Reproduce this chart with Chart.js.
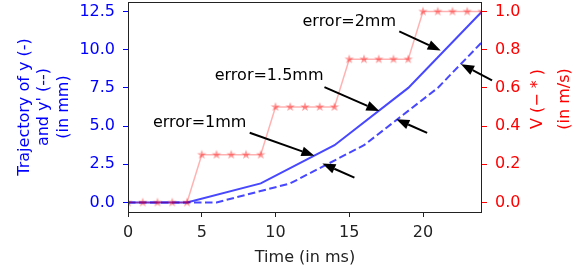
<!DOCTYPE html>
<html>
<head>
<meta charset="utf-8">
<script src="https://cdn.jsdelivr.net/npm/chart.js@4"></script>
<style>
  html, body { margin: 0; padding: 0; background: #fff; }
  #wrap { width: 584px; height: 276px; }
</style>
</head>
<body>
<div id="wrap"><canvas id="myChart"></canvas></div>
<script>
// values
const timeMs = [0, 1, 2, 3, 4, 5, 6, 7, 8, 9, 10, 11, 12, 13, 14, 15, 16, 17, 18, 19, 20, 21, 22, 23, 24];
const velocity = [0, 0, 0, 0, 0, 0.25, 0.25, 0.25, 0.25, 0.25, 0.5, 0.5, 0.5, 0.5, 0.5,
                  0.75, 0.75, 0.75, 0.75, 0.75, 1, 1, 1, 1, 1];
const trajTime = [0, 4, 9, 14, 19, 24];
const trajY = [0, 0, 1.25, 3.75, 7.5, 12.5];
const trajDelayTime = [0, 6, 11, 16, 21, 24];
const trajDelayY = [0, 0, 1.25, 3.75, 7.5, 10.5];

const xTicks = [0, 5, 10, 15, 20];
const leftTicks = [0, 2.5, 5, 7.5, 10, 12.5];
const rightTicks = [0, 0.2, 0.4, 0.6, 0.8, 1.0];

// annotations, in data units of the x axis and the left axis
const noteTexts = ['error=1mm', 'error=1.5mm', 'error=2mm'];
const noteAt = [[1.69, 5.21], [5.88, 8.27], [11.83, 11.85]];
const arrowFrom = [[8.25, 4.56], [13.32, 7.55], [18.39, 11.2], [15.35, 1.63], [20.28, 4.56], [24.68, 8.0]];
const arrowTo = [[12.64, 3.06], [17.04, 5.99], [21.2, 9.95], [13.18, 2.55], [18.19, 5.45], [22.58, 9.05]];

Chart.defaults.font.family = 'DejaVu Sans';
Chart.defaults.font.size = 16;

const PLOT_TOP = 2;
const X_AXIS_H = 64;

function makeStar(r, color) {
    const c = document.createElement('canvas');
    const s = Math.ceil(r * 2 + 2);
    c.width = s; c.height = s;
    const g = c.getContext('2d');
    g.beginPath();
    for (let i = 0; i < 10; i++) {
        const rr = i % 2 ? r * 0.4 : r;
        const a = -Math.PI / 2 + i * Math.PI / 5;
        g.lineTo(s / 2 + rr * Math.cos(a), s / 2 + rr * Math.sin(a));
    }
    g.closePath();
    g.fillStyle = color;
    g.fill();
    return c;
}

function drawArrow(ctx, x1, y1, x2, y2) {
    const ang = Math.atan2(y2 - y1, x2 - x1);
    const hl = 13, hw = 5;
    const bx = x2 - hl * Math.cos(ang), by = y2 - hl * Math.sin(ang);
    ctx.beginPath();
    ctx.moveTo(x1, y1);
    ctx.lineTo(bx, by);
    ctx.lineWidth = 2;
    ctx.strokeStyle = '#000';
    ctx.stroke();
    ctx.beginPath();
    ctx.moveTo(x2, y2);
    ctx.lineTo(bx - hw * Math.sin(ang), by + hw * Math.cos(ang));
    ctx.lineTo(bx + hw * Math.sin(ang), by - hw * Math.cos(ang));
    ctx.closePath();
    ctx.fillStyle = '#000';
    ctx.fill();
}

// pin the plot box to where the reference has it
const pinArea = {
    id: 'pinArea',
    afterLayout(chart) {
        const a = chart.chartArea;
        const bottom = chart.height - X_AXIS_H;
        a.top = PLOT_TOP;
        a.bottom = bottom;
        a.height = bottom - PLOT_TOP;
        ['y', 'y1'].forEach(id => {
            const s = chart.scales[id];
            s.top = PLOT_TOP; s.bottom = bottom; s.height = bottom - PLOT_TOP;
            s.configure();
        });
        const x = chart.scales.x;
        x.top = bottom; x.bottom = chart.height; x.height = X_AXIS_H;
        x.configure();
    }
};

const extras = {
    id: 'extras',
    afterDraw(chart) {
        const ctx = chart.ctx;
        const a = chart.chartArea;
        const xs = chart.scales.x, ys = chart.scales.y;
        ctx.save();
        // frame
        ctx.strokeStyle = '#222';
        ctx.lineWidth = 1;
        ctx.strokeRect(Math.round(a.left) + 0.5, Math.round(a.top) + 0.5,
            Math.round(a.right - a.left) - 1, Math.round(a.bottom - a.top));
        // notes and arrows
        ctx.fillStyle = '#000';
        ctx.font = '16px "DejaVu Sans"';
        ctx.textAlign = 'left';
        ctx.textBaseline = 'middle';
        noteTexts.forEach((t, i) => {
            ctx.fillText(t, xs.getPixelForValue(noteAt[i][0]), ys.getPixelForValue(noteAt[i][1]));
        });
        arrowFrom.forEach((f, i) => {
            drawArrow(ctx, xs.getPixelForValue(f[0]), ys.getPixelForValue(f[1]),
                xs.getPixelForValue(arrowTo[i][0]), ys.getPixelForValue(arrowTo[i][1]));
        });
        // right axis title, read bottom to top like the left one
        ctx.fillStyle = 'red';
        ctx.textAlign = 'center';
        const cy = a.top + (a.bottom - a.top) / 2 - 8;
        [['V (\u2212 * )', 56], ['(in m/s)', 83]].forEach(([t, dx]) => {
            ctx.save();
            ctx.translate(a.right + dx, cy);
            ctx.rotate(-Math.PI / 2);
            ctx.fillText(t, 0, 0);
            ctx.restore();
        });
        ctx.restore();
    }
};

const star = makeStar(5, 'rgba(255, 0, 0, 0.4)');

const ctx = document.getElementById('myChart').getContext('2d');
new Chart(ctx, {
    type: 'line',
    data: {
        datasets: [
            {
                label: 'y',
                data: trajTime.map((t, i) => ({ x: t, y: trajY[i] })),
                yAxisID: 'y',
                borderColor: 'rgba(0, 0, 255, 0.72)',
                borderWidth: 2,
                pointRadius: 0,
                tension: 0,
                order: 2
            },
            {
                label: "y'",
                data: trajDelayTime.map((t, i) => ({ x: t, y: trajDelayY[i] })),
                yAxisID: 'y',
                borderColor: 'rgba(0, 0, 255, 0.72)',
                borderWidth: 2,
                borderDash: [7.5, 3.5],
                pointRadius: 0,
                tension: 0,
                order: 3
            },
            {
                label: 'V',
                data: timeMs.map((t, i) => ({ x: t, y: velocity[i] })),
                yAxisID: 'y1',
                borderColor: 'rgba(255, 0, 0, 0.3)',
                borderWidth: 1.5,
                pointStyle: star,
                pointRadius: 5,
                tension: 0,
                clip: 0,
                order: 1
            }
        ]
    },
    options: {
        responsive: true,
        maintainAspectRatio: false,
        animation: false,
        layout: { padding: { top: 2, left: 0, right: 0, bottom: 0 } },
        plugins: { legend: { display: false }, tooltip: { enabled: false } },
        scales: {
            x: {
                type: 'linear',
                min: 0,
                max: 24,
                afterBuildTicks: s => { s.ticks = xTicks.map(v => ({ value: v })); },
                afterFit: s => { s.height = X_AXIS_H; s.paddingLeft = 0; s.paddingRight = 0; },
                border: { display: false },
                grid: { drawOnChartArea: false, tickLength: 5, color: '#222', tickWidth: 1 },
                ticks: { color: '#222', padding: 6, maxRotation: 0, callback: v => String(v) },
                title: { display: true, text: 'Time (in ms)', color: '#222', padding: { top: 0, bottom: 8.4 } }
            },
            y: {
                position: 'left',
                min: -0.625,
                max: 13.125,
                afterBuildTicks: s => { s.ticks = leftTicks.map(v => ({ value: v })); },
                afterFit: s => { s.width = 128; s.paddingTop = 0; s.paddingBottom = 0; },
                border: { display: false },
                grid: { drawOnChartArea: false, tickLength: 5, color: 'blue' },
                ticks: { color: 'blue', padding: 8, callback: v => v.toFixed(1) },
                title: {
                    display: true,
                    text: ['Trajectory of y (-)', "and y' (--)", '(in mm)'],
                    color: 'blue',
                    padding: { top: 15.4, bottom: 0 }
                }
            },
            y1: {
                position: 'right',
                min: -0.05,
                max: 1.05,
                afterBuildTicks: s => { s.ticks = rightTicks.map(v => ({ value: v })); },
                afterFit: s => { s.width = 102; s.paddingTop = 0; s.paddingBottom = 0; },
                border: { display: false },
                grid: { drawOnChartArea: false, tickLength: 5, color: 'red' },
                ticks: { color: 'red', padding: 8, callback: v => v.toFixed(1) }
            }
        }
    },
    plugins: [pinArea, extras]
});
</script>
</body>
</html>
